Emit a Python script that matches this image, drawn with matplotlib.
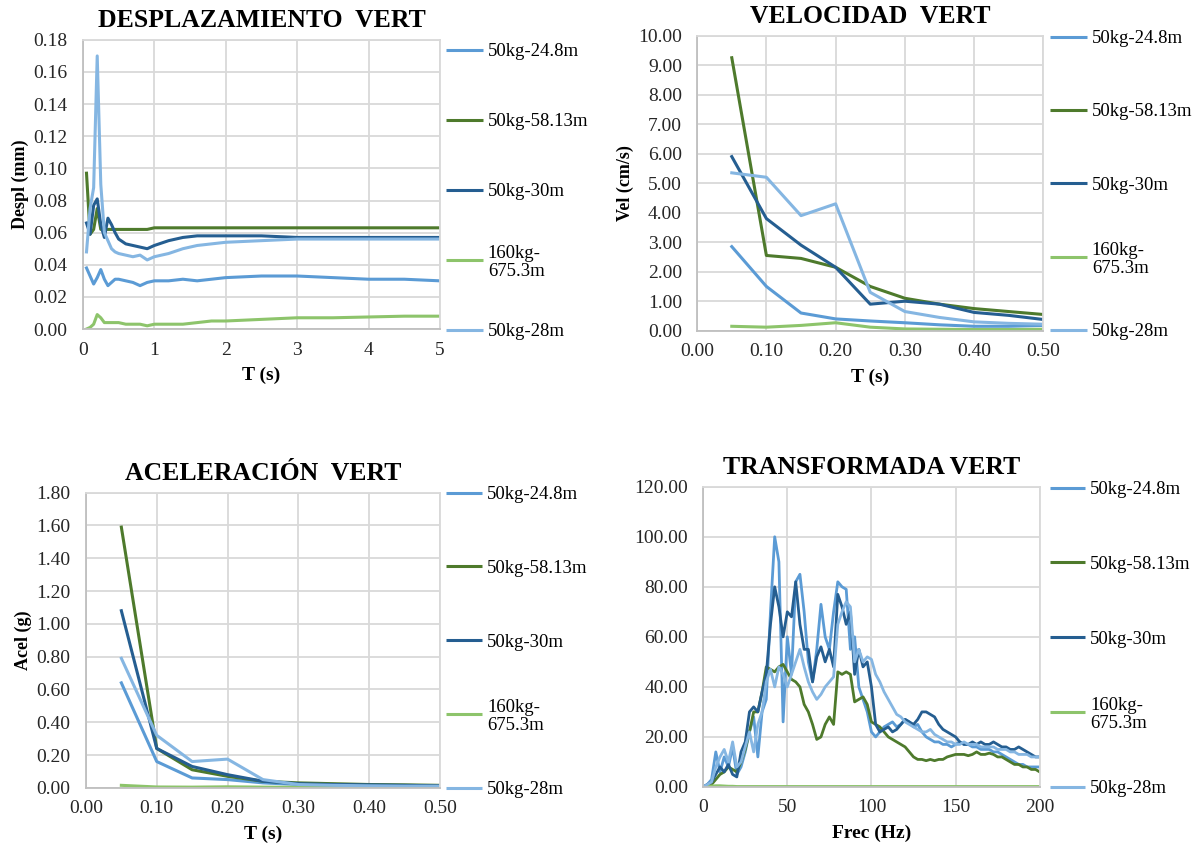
import numpy as np
import matplotlib
matplotlib.use("Agg")
import matplotlib.pyplot as plt
from matplotlib.ticker import FormatStrFormatter

plt.rcParams['font.family'] = ['Liberation Serif', 'DejaVu Serif']

# Series names and colours (same in all four panels)
labels = ["50kg-24.8m", "50kg-58.13m", "50kg-30m", "160kg-\n675.3m", "50kg-28m"]
colors = ["#5B9BD5", "#4E7A2C", "#255E91", "#8DC46B", "#85B6E2"]

# Displacement spectrum
t_desp = [0.05, 0.1, 0.15, 0.2, 0.25, 0.3, 0.35, 0.4, 0.45, 0.5, 0.6, 0.7, 0.8, 0.9, 1.0,
          1.2, 1.4, 1.6, 1.8, 2.0, 2.5, 3.0, 3.5, 4.0, 4.5, 5.0]
desp_248 = [0.038, 0.033, 0.028, 0.032, 0.037, 0.031, 0.027, 0.029, 0.031, 0.031, 0.030, 0.029,
            0.027, 0.029, 0.030, 0.030, 0.031, 0.030, 0.031, 0.032, 0.033, 0.033, 0.032, 0.031, 0.031, 0.030]
desp_5813 = [0.097, 0.059, 0.062, 0.075, 0.062, 0.062, 0.062, 0.062, 0.062, 0.062, 0.062, 0.062,
             0.062, 0.062, 0.063, 0.063, 0.063, 0.063, 0.063, 0.063, 0.063, 0.063, 0.063, 0.063, 0.063, 0.063]
desp_30 = [0.066, 0.059, 0.077, 0.081, 0.065, 0.057, 0.069, 0.065, 0.060, 0.056, 0.053, 0.052,
           0.051, 0.050, 0.052, 0.055, 0.057, 0.058, 0.058, 0.058, 0.058, 0.057, 0.057, 0.057, 0.057, 0.057]
desp_160 = [0.000, 0.001, 0.003, 0.009, 0.007, 0.004, 0.004, 0.004, 0.004, 0.004, 0.003, 0.003,
            0.003, 0.002, 0.003, 0.003, 0.003, 0.004, 0.005, 0.005, 0.006, 0.007, 0.007, 0.0075, 0.008, 0.008]
desp_28 = [0.048, 0.075, 0.088, 0.170, 0.090, 0.060, 0.055, 0.050, 0.048, 0.047, 0.046, 0.045,
           0.046, 0.043, 0.045, 0.047, 0.050, 0.052, 0.053, 0.054, 0.055, 0.056, 0.056, 0.056, 0.056, 0.056]

# Velocity and acceleration spectra
t_va = [0.05, 0.10, 0.15, 0.20, 0.25, 0.30, 0.35, 0.40, 0.45, 0.50]
vel_248 = [2.85, 1.50, 0.60, 0.40, 0.33, 0.27, 0.20, 0.15, 0.15, 0.18]
vel_5813 = [9.25, 2.55, 2.45, 2.15, 1.50, 1.10, 0.90, 0.75, 0.65, 0.55]
vel_30 = [5.90, 3.80, 2.90, 2.15, 0.90, 1.00, 0.90, 0.62, 0.52, 0.38]
vel_160 = [0.15, 0.12, 0.18, 0.27, 0.12, 0.06, 0.05, 0.04, 0.04, 0.05]
vel_28 = [5.35, 5.20, 3.90, 4.30, 1.30, 0.65, 0.45, 0.30, 0.25, 0.22]

acel_248 = [0.64, 0.16, 0.06, 0.05, 0.03, 0.02, 0.015, 0.012, 0.010, 0.010]
acel_5813 = [1.59, 0.24, 0.11, 0.07, 0.04, 0.03, 0.025, 0.020, 0.018, 0.015]
acel_30 = [1.08, 0.24, 0.13, 0.08, 0.04, 0.025, 0.020, 0.018, 0.015, 0.012]
acel_160 = [0.015, 0.005, 0.004, 0.006, 0.004, 0.003, 0.003, 0.003, 0.003, 0.003]
acel_28 = [0.79, 0.32, 0.16, 0.175, 0.05, 0.02, 0.015, 0.012, 0.010, 0.010]

# Fourier amplitude, 2.5 Hz steps from 0 to 200 Hz
frec = np.arange(0, 200.1, 2.5)
four_248 = [0, 1, 3, 14, 6, 12, 8, 16, 5, 8, 14, 22, 28, 12, 30, 35, 70, 100, 90, 26,
            60, 45, 82, 85, 70, 50, 42, 55, 73, 60, 55, 70, 82, 80, 79, 55, 60, 40, 35, 30,
            22, 20, 22, 24, 25, 26, 24, 25, 27, 26, 24, 25, 22, 20, 19, 18, 18, 17, 17, 16,
            17, 18, 17, 17, 16, 16, 15, 15, 15, 14, 14, 13, 12, 11, 10, 9, 9, 8, 8, 8, 8]
four_5813 = [0, 0.5, 1, 3, 5, 6, 8, 7, 6, 10, 15, 22, 30, 30, 38, 48, 47, 46, 48, 49,
             46, 43, 42, 40, 33, 30, 25, 19, 20, 25, 28, 25, 46, 45, 46, 45, 34, 35, 36, 33,
             26, 25, 24, 22, 20, 19, 18, 17, 16, 14, 12, 11, 11, 10.5, 11, 10.5, 11, 11, 12, 12.5,
             13, 13, 13, 12.5, 13, 14, 13, 13, 13.5, 13, 12, 12, 11, 10, 9, 9, 8, 8, 7, 7, 6]
four_30 = [0, 1, 2, 5, 8, 6, 9, 5, 4, 14, 18, 30, 32, 30, 38, 45, 65, 80, 72, 60,
           70, 68, 82, 65, 55, 55, 42, 52, 56, 50, 55, 48, 77, 72, 65, 70, 45, 55, 48, 50,
           40, 25, 22, 23, 24, 22, 23, 25, 27, 26, 25, 27, 30, 30, 29, 28, 25, 23, 22, 21,
           20, 18, 17, 17, 18, 17, 18, 17, 17, 18, 17, 16, 16, 15, 15, 16, 15, 14, 13, 12, 12]
four_160 = [0, 0.2, 0.4, 0.5, 0.5, 0.4, 0.3, 0.3, 0.2, 0.2, 0.2, 0.2, 0.2, 0.2, 0.2, 0.2, 0.2, 0.2, 0.2, 0.2,
            0.2, 0.2, 0.2, 0.2, 0.2, 0.2, 0.2, 0.2, 0.2, 0.2, 0.2, 0.2, 0.2, 0.2, 0.2, 0.2, 0.2, 0.2, 0.2, 0.2,
            0.2, 0.2, 0.2, 0.2, 0.2, 0.2, 0.2, 0.2, 0.2, 0.2, 0.2, 0.2, 0.2, 0.2, 0.2, 0.2, 0.2, 0.2, 0.2, 0.2,
            0.2, 0.2, 0.2, 0.2, 0.2, 0.2, 0.2, 0.2, 0.2, 0.2, 0.2, 0.2, 0.2, 0.2, 0.2, 0.2, 0.2, 0.2, 0.2, 0.2, 0.2]
four_28 = [0, 1, 2, 8, 12, 15, 10, 18, 8, 10, 16, 22, 14, 25, 30, 42, 47, 40, 48, 45,
           40, 45, 50, 55, 48, 42, 38, 35, 37, 40, 42, 44, 65, 70, 74, 72, 50, 55, 50, 52,
           51, 45, 42, 38, 35, 32, 29, 28, 26, 25, 24, 23, 22, 22, 23, 21, 20, 19, 18, 18,
           17, 17, 18, 17, 17, 17, 16, 16, 16, 16, 15, 15, 15, 14, 14, 13, 13, 13, 12, 12, 12]

GRID = "#D9D9D9"


def style_axes(ax, title, xlabel, ylabel, xlim, xticks, ylim, yticks, xfmt, yfmt):
    ax.set_title(title, fontsize=18.5, fontweight='bold', pad=9)
    ax.set_xlabel(xlabel, fontsize=14, fontweight='bold', labelpad=6)
    if ylabel:
        ax.set_ylabel(ylabel, fontsize=13, fontweight='bold', labelpad=3)
    ax.set_xlim(*xlim)
    ax.set_ylim(*ylim)
    ax.set_xticks(xticks)
    ax.set_yticks(yticks)
    if xfmt:
        ax.xaxis.set_major_formatter(FormatStrFormatter(xfmt))
    ax.yaxis.set_major_formatter(FormatStrFormatter(yfmt))
    ax.tick_params(length=0, labelsize=14, colors="#262626")
    ax.tick_params(axis='x', pad=9)
    ax.tick_params(axis='y', pad=11)
    ax.grid(True, color=GRID, linewidth=1.3)
    ax.set_axisbelow(True)
    for side in ["top", "right"]:
        ax.spines[side].set_color(GRID)
        ax.spines[side].set_linewidth(1.3)
    for side in ["left", "bottom"]:
        ax.spines[side].set_color("#BFBFBF")
        ax.spines[side].set_linewidth(1.3)


def side_legend(ax, top, bottom, x0, x1, xt):
    for i, y in enumerate(np.linspace(top, bottom, len(labels))):
        ax.plot([x0, x1], [y, y], transform=ax.transAxes, color=colors[i],
                lw=2.2, clip_on=False, solid_capstyle='butt')
        ax.text(xt, y, labels[i], transform=ax.transAxes, fontsize=13.5,
                va='center_baseline', ha='left', linespacing=1.1)


fig = plt.figure(figsize=(12.02, 8.48), dpi=100)

ax1 = fig.add_axes([0.069, 0.612, 0.297, 0.341])
ax2 = fig.add_axes([0.580, 0.610, 0.288, 0.348])
ax3 = fig.add_axes([0.0715, 0.071, 0.2945, 0.348])
ax4 = fig.add_axes([0.585, 0.072, 0.280, 0.354])

for ys, c in zip([desp_248, desp_5813, desp_30, desp_160, desp_28], colors):
    ax1.plot(t_desp, ys, color=c, lw=2.2)
style_axes(ax1, "DESPLAZAMIENTO  VERT", "T (s)", "Despl (mm)", (0, 5), range(0, 6),
           (0, 0.18), np.arange(0, 0.181, 0.02), None, "%.2f")
side_legend(ax1, 0.965, -0.003, 1.017, 1.120, 1.134)

for ys, c in zip([vel_248, vel_5813, vel_30, vel_160, vel_28], colors):
    ax2.plot(t_va, ys, color=c, lw=2.2)
style_axes(ax2, "VELOCIDAD  VERT", "T (s)", "Vel (cm/s)", (0, 0.5), np.arange(0, 0.51, 0.1),
           (0, 10), np.arange(0, 10.1, 1), "%.2f", "%.2f")
side_legend(ax2, 0.997, 0.003, 1.020, 1.125, 1.140)

for ys, c in zip([acel_248, acel_5813, acel_30, acel_160, acel_28], colors):
    ax3.plot(t_va, ys, color=c, lw=2.2)
style_axes(ax3, "ACELERACIÓN  VERT", "T (s)", "Acel (g)", (0, 0.5), np.arange(0, 0.51, 0.1),
           (0, 1.8), np.arange(0, 1.81, 0.2), "%.2f", "%.2f")
side_legend(ax3, 1.0, 0.0, 1.017, 1.120, 1.134)

for ys, c in zip([four_248, four_5813, four_30, four_160, four_28], colors):
    ax4.plot(frec, ys, color=c, lw=2.0)
style_axes(ax4, "TRANSFORMADA VERT", "Frec (Hz)", None, (0, 200), range(0, 201, 50),
           (0, 120), np.arange(0, 121, 20), None, "%.2f")
side_legend(ax4, 0.997, 0.0, 1.030, 1.135, 1.150)

fig.savefig("out.png", dpi=100)
